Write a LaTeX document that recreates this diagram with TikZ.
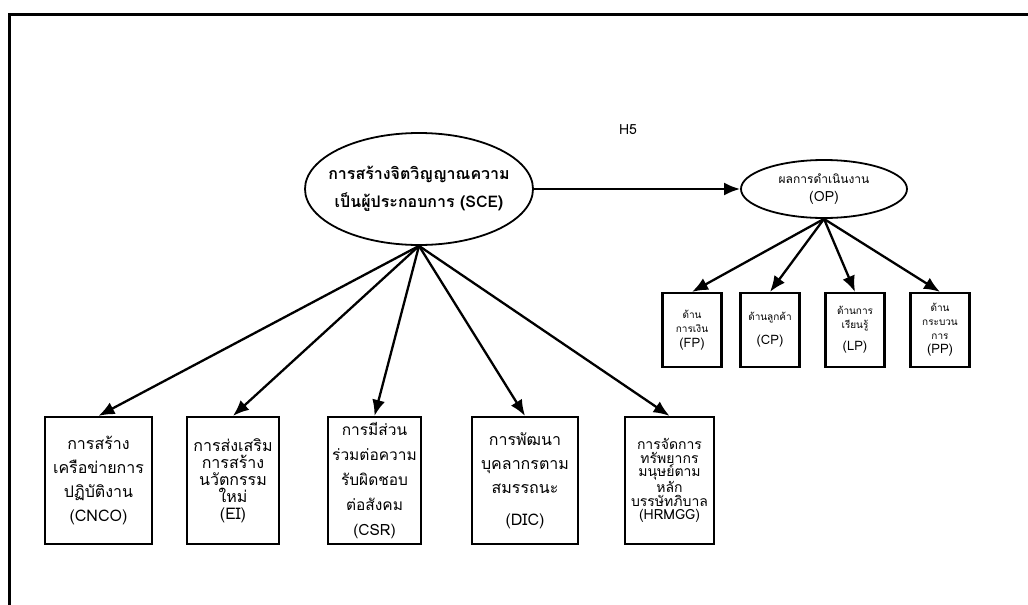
\documentclass[tikz,border=0pt]{standalone}
\usepackage{fontspec}
\usetikzlibrary{shapes.geometric,arrows.meta}
\newfontfamily\thai[Script=Thai]{Loma}
\begin{document}
\begin{tikzpicture}[x=1pt,y=-1pt,
  conn/.style={line width=2.3pt,-{Latex[length=16pt,width=13pt]}},
  bigbox/.style={draw,line width=2.2pt,minimum height=127pt,inner sep=0pt,align=center},
  smallbox/.style={draw,line width=2.2pt,minimum width=59pt,minimum height=74pt,inner sep=0pt,align=center},
  oval/.style={draw,ellipse,line width=1.8pt,inner ysep=0pt,align=center},
  abbr/.style={}]
\useasboundingbox (0,0) rectangle (1028,605);
% outer frame (left and top edges)
\draw[line width=3pt] (9,606) -- (9,14) -- (1030,14);

\node[font=\thai\fontsize{14}{16}\selectfont] (h5) at (628,130) {H5};

% central construct and outcome
\node[oval,inner xsep=-16pt,minimum width=228pt,minimum height=112pt,font=\thai\fontsize{16}{28}\selectfont\bfseries] (SCE) at (419,189)
  {การสร้างจิตวิญญาณความ\\ เป็นผู้ประกอบการ (SCE)};
\node[oval,inner xsep=-10pt,minimum width=166pt,minimum height=58pt,font=\thai\fontsize{12}{18}\selectfont] (OP) at (824,189)
  {ผลการดำเนินงาน\\ {\fontsize{14}{18}\selectfont (OP)}};

% outcome dimensions
\newcommand\ab[1]{{\fontsize{13}{14}\selectfont #1}}
\tikzset{smalltext/.style={font=\thai\fontsize{10}{14}\selectfont}}
\node[smallbox,smalltext] (FP) at (692,330) {ด้าน\\ การเงิน\\[1pt] \ab{(FP)}};
\node[smallbox,smalltext] (CP) at (770,330) {ด้านลูกค้า\\[10pt] \ab{(CP)}};
\node[smallbox,smalltext] (LP) at (855,330) {ด้านการ\\ เรียนรู้\\[8pt] \ab{(LP)}};
\node[smallbox,smalltext] (PP) at (940,330) {ด้าน\\ กระบวน\\ การ\\ \ab{(PP)}};

% entrepreneurial spirit dimensions
\node[bigbox,minimum width=107pt,font=\thai\fontsize{16}{24}\selectfont] (CNCO) at (98.5,480.5)
  {การสร้าง\\ เครือข่ายการ\\ ปฏิบัติงาน\\ (CNCO)};
\node[bigbox,minimum width=92pt,font=\thai\fontsize{16}{17}\selectfont] (EI) at (233,480.5)
  {การส่งเสริม\\ การสร้าง\\ นวัตกรรม\\ ใหม่\\ (EI)};
\node[bigbox,minimum width=93pt,font=\thai\fontsize{15.5}{25}\selectfont] (CSR) at (374.5,480.5)
  {การมีส่วน\\ ร่วมต่อความ\\ รับผิดชอบ\\ ต่อสังคม\\ (CSR)};
\node[bigbox,minimum width=106pt,font=\thai\fontsize{16}{24}\selectfont] (DIC) at (525,480.5)
  {การพัฒนา\\ บุคลากรตาม\\ สมรรถนะ\\[8pt] (DIC)};
\node[bigbox,minimum width=89pt,font=\thai\fontsize{14}{13.5}\selectfont] (HRMGG) at (669.5,480.5)
  {การจัดการ\\ ทรัพยากร\\ มนุษย์ตาม\\ หลัก\\ บรรษัทภิบาล\\ (HRMGG)};

% paths
\draw[conn] (SCE.east) -- (OP.west);
\foreach \t in {CNCO,EI,CSR,DIC,HRMGG} \draw[conn] (SCE.south) -- (\t.north);
\foreach \t in {FP,CP,LP,PP} \draw[conn] (OP.south) -- (\t.north);
\end{tikzpicture}
\end{document}
